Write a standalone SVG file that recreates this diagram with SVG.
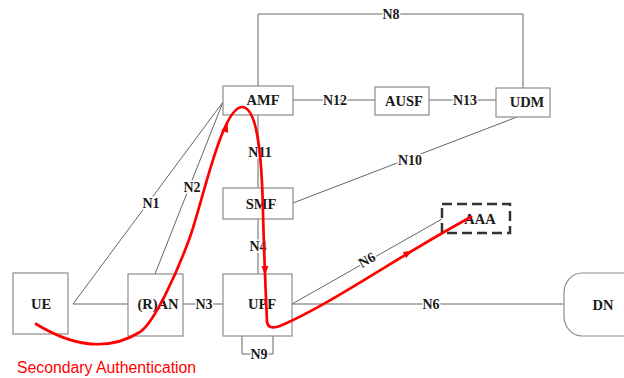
<svg xmlns="http://www.w3.org/2000/svg" width="624" height="378" viewBox="0 0 624 378">
<style>
.box{fill:#fff;stroke:#8c8c8c;stroke-width:1.2}
.ln{fill:none;stroke:#666;stroke-width:1}
.nm{font-family:"Liberation Serif","Times New Roman",serif;font-weight:bold;font-size:14.5px;fill:#1a1a1a;text-anchor:middle;dominant-baseline:central}
.lb{font-family:"Liberation Serif","Times New Roman",serif;font-weight:bold;font-size:14px;fill:#1a1a1a;text-anchor:middle;dominant-baseline:central;stroke:#fff;stroke-width:3;paint-order:stroke}
.red{fill:none;stroke:#f00;stroke-width:2.7;stroke-linecap:round;stroke-linejoin:round}
.ah{fill:#f00}
</style>
<defs>
<path id="ah" d="M5,0 L-4,-3.5 L-4,3.5 Z"/>
</defs>
<rect width="624" height="378" fill="#fff"/>
<g id="connectors">
<polyline class="ln" points="258,87 258,14 523,14 523,88"/>
<line class="ln" x1="293" y1="100" x2="375" y2="100"/>
<line class="ln" x1="429" y1="100" x2="496" y2="100"/>
<line class="ln" x1="258" y1="114" x2="258" y2="188"/>
<line class="ln" x1="258" y1="219" x2="258" y2="274"/>
<line class="ln" x1="293" y1="203" x2="517" y2="117"/>
<polyline class="ln" points="223,102 73,304 128,304"/>
<line class="ln" x1="155" y1="274" x2="223" y2="102"/>
<line class="ln" x1="183" y1="304" x2="223" y2="304"/>
<polyline class="ln" points="242,336 242,354 273,354 273,336"/>
<line class="ln" x1="292" y1="304" x2="442" y2="219"/>
<line class="ln" x1="292" y1="304" x2="564" y2="304"/>
<text class="lb" x="391" y="14">N8</text>
<text class="lb" x="335" y="100">N12</text>
<text class="lb" x="465" y="100">N13</text>
<text class="lb" x="260" y="152">N11</text>
<text class="lb" x="258" y="246">N4</text>
<text class="lb" x="410" y="160">N10</text>
<text class="lb" x="151" y="203">N1</text>
<text class="lb" x="192" y="187">N2</text>
<text class="lb" x="204" y="304">N3</text>
<text class="lb" x="259" y="354">N9</text>
<text class="lb" x="367" y="260" transform="rotate(-29.5 367 260)">N6</text>
<text class="lb" x="431" y="304">N6</text>
</g>
<g id="AMF"><rect class="box" x="223" y="86" width="70" height="29"/><text class="nm" x="263" y="100">AMF</text></g>
<g id="AUSF"><rect class="box" x="375" y="87" width="54" height="28"/><text class="nm" x="404" y="101">AUSF</text></g>
<g id="UDM"><rect class="box" x="496" y="88" width="54" height="29"/><text class="nm" x="527" y="102">UDM</text></g>
<g id="SMF"><rect class="box" x="223" y="188" width="70" height="31"/><text class="nm" x="261" y="204">SMF</text></g>
<g id="UPF"><rect class="box" x="223" y="274" width="69" height="62"/><text class="nm" x="262" y="304">UPF</text></g>
<g id="UE"><rect class="box" x="13" y="273" width="55" height="61"/><text class="nm" x="41" y="304">UE</text></g>
<g id="RAN"><rect class="box" x="128" y="274" width="55" height="62"/><text class="nm" x="158" y="304">(R)AN</text></g>
<g id="AAA"><rect x="442" y="204" width="68" height="29" fill="#fff" stroke="#333" stroke-width="2.5" stroke-dasharray="10,5"/><text class="nm" x="480" y="219">AAA</text></g>
<g id="DN"><rect class="box" x="564" y="273" width="90" height="63" rx="18" ry="20"/><text class="nm" x="603" y="305">DN</text></g>
<g id="flow">
<path class="red" d="M36,324 Q95,360 140,332 C155,322 178,270 190,237 C202,204 222,107 242,107 C258,107 262,160 263,213 C264,250 266,300 267,322 Q268,330 280,326 C330,305 400,255 471,217"/>
<use href="#ah" class="ah" transform="translate(226,128) rotate(-70)"/>
<use href="#ah" class="ah" transform="translate(265,270) rotate(89)"/>
<use href="#ah" class="ah" transform="translate(408,253) rotate(-29.5)"/>
<text x="17" y="373" font-family="'Liberation Sans',Arial,sans-serif" font-size="15.8" fill="#f00">Secondary Authentication</text>
</g>
</svg>
